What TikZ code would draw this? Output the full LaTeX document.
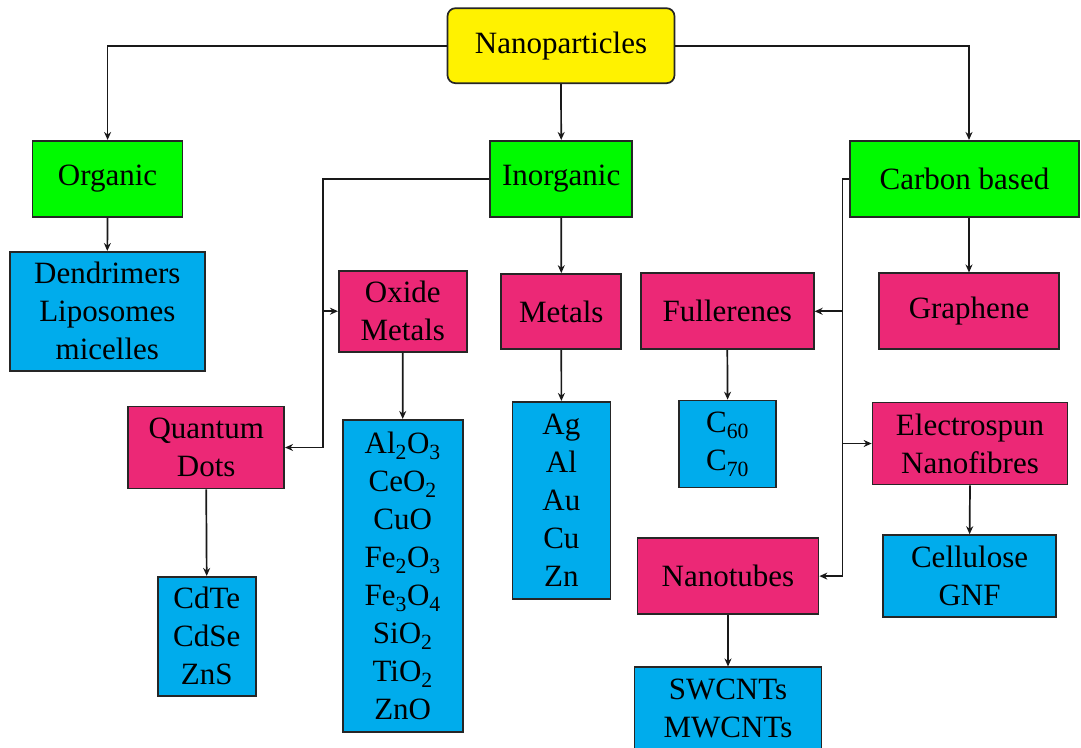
\documentclass[tikz,border=0pt]{standalone}
\usepackage{fontspec}
\setmainfont{Liberation Serif}
\usetikzlibrary{arrows.meta,calc}
\definecolor{npyellow}{RGB}{255,242,0}
\definecolor{npgreen}{RGB}{0,250,0}
\definecolor{nppink}{RGB}{236,40,118}
\definecolor{npblue}{RGB}{0,172,236}
\begin{document}
\begin{tikzpicture}[x=1pt,y=-1pt,
  box/.style={draw=black!85, line width=1.7pt, text=black, align=center, inner sep=0pt,
    font=\fontsize{31}{38}\selectfont},
  rootbox/.style={box, fill=npyellow, rounded corners=8pt},
  catbox/.style={box, fill=npgreen},
  subbox/.style={box, fill=nppink},
  listbox/.style={box, fill=npblue},
  conn/.style={line width=1.7pt, draw=black!90, -{Stealth[length=8pt,width=7pt]}}]
\useasboundingbox (0,0) rectangle (1081,747);
\fill[white] (0,0) rectangle (1081,747);

% level 0
\node[rootbox, minimum width=227pt, minimum height=75pt] (np) at (561,45.7) {Nanoparticles};
% level 1
\node[catbox, minimum width=150pt, minimum height=76pt] (org) at (107.6,178.8) {Organic};
\node[catbox, minimum width=142pt, minimum height=76pt] (inorg) at (561.2,178.8) {Inorganic};
\node[catbox, minimum width=229pt, minimum height=76pt] (carb) at (964.5,178.8) {Carbon based};
% level 2
\node[listbox, minimum width=195pt, minimum height=119pt] (dend) at (107.3,311.3) {Dendrimers\\Liposomes\\micelles};
\node[subbox, minimum width=128pt, minimum height=81pt] (oxm) at (402.8,311.2) {Oxide\\Metals};
\node[subbox, minimum width=120pt, minimum height=75pt] (met) at (561.3,311.5) {Metals};
\node[subbox, minimum width=173pt, minimum height=76pt] (full) at (727.3,311.3) {Fullerenes};
\node[subbox, minimum width=180pt, minimum height=76pt] (graph) at (969,311.3) {Graphene};
% level 3
\node[subbox, minimum width=156pt, minimum height=82pt] (qd) at (206.2,447.5) {Quantum\\Dots};
\node[listbox, minimum width=120pt, minimum height=312pt] (oxl) at (402.7,575.8)
  {Al\textsubscript{2}O\textsubscript{3}\\CeO\textsubscript{2}\\CuO\\Fe\textsubscript{2}O\textsubscript{3}\\Fe\textsubscript{3}O\textsubscript{4}\\SiO\textsubscript{2}\\TiO\textsubscript{2}\\ZnO};
\node[listbox, minimum width=98pt, minimum height=197pt] (metl) at (561.4,500.3) {Ag\\Al\\Au\\Cu\\Zn};
\node[listbox, minimum width=97pt, minimum height=87pt] (cs) at (727.6,444) {C\textsubscript{60}\\C\textsubscript{70}};
\node[subbox, minimum width=195pt, minimum height=82pt] (elec) at (970,443.5) {Electrospun\\Nanofibres};
% level 4
\node[listbox, minimum width=98pt, minimum height=119pt] (cdte) at (206.7,636.3) {CdTe\\CdSe\\ZnS};
\node[listbox, minimum width=173pt, minimum height=82pt] (cell) at (969.6,576.1) {Cellulose\\GNF};
\node[subbox, minimum width=181pt, minimum height=76pt] (nt) at (728,576.1) {Nanotubes};
\node[listbox, minimum width=187pt, minimum height=82pt] (sw) at (728,708.3) {SWCNTs\\MWCNTs};

% bus corners
\coordinate (ibus) at (323,447.5);
\coordinate (cbus) at (842.5,576.1);

% connectors
\draw[conn] (np.west) -| (org.north);
\draw[conn] (np.south) -- (inorg.north);
\draw[conn] (np.east) -| (graph.north |- carb.north);
\draw[conn] (org.south) -- (dend.north);
\draw[conn] (inorg.south) -- (met.north);
\draw[conn] (inorg.west) -| (ibus) -- (qd.east);
\draw[conn] (ibus |- oxm.west) -- (oxm.west);
\draw[conn] (oxm.south) -- (oxl.north);
\draw[conn] (met.south) -- (metl.north);
\draw[conn] (qd.south) -- (cdte.north);
\draw[conn] (graph.north |- carb.south) -- (graph.north);
\draw[conn] (carb.west) -| (cbus) -- (nt.east);
\draw[conn] (cbus |- full.east) -- (full.east);
\draw[conn] (cbus |- elec.west) -- (elec.west);
\draw[conn] (full.south) -- (cs.north);
\draw[conn] (elec.south) -- (cell.north);
\draw[conn] (nt.south) -- (sw.north);
\end{tikzpicture}
\end{document}
